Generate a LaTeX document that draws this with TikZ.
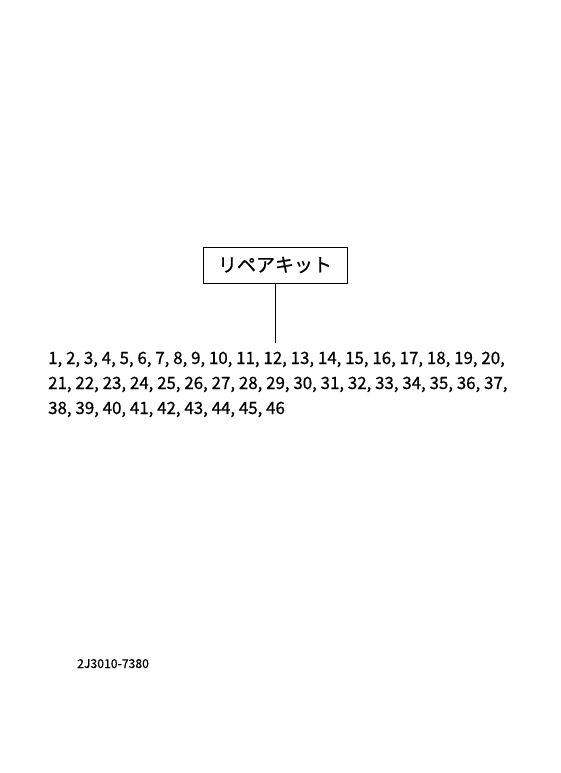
\documentclass[tikz,border=0pt]{standalone}
\usepackage{fontspec}
\setmainfont[FakeBold=0.6]{Noto Sans CJK JP}
\begin{document}
\begin{tikzpicture}
  [x=1pt,y=-1pt,every node/.style={inner sep=0pt},
   kitbox/.style={draw,line width=0.8pt,minimum width=144pt,minimum height=36pt,font=\fontsize{19}{19}\selectfont},
   partrow/.style={anchor=base west,font=\fontsize{16.9}{16.9}\selectfont}]
  \useasboundingbox (0,0) rectangle (560,773);
  \node[kitbox] (kit) at (275,265) {リペアキット};
  \node[partrow] (row1) at (48,364) {1, 2, 3, 4, 5, 6, 7, 8, 9, 10, 11, 12, 13, 14, 15, 16, 17, 18, 19, 20,};
  \node[partrow] (row2) at (48,389) {21, 22, 23, 24, 25, 26, 27, 28, 29, 30, 31, 32, 33, 34, 35, 36, 37,};
  \node[partrow] (row3) at (48,414) {38, 39, 40, 41, 42, 43, 44, 45, 46};
  \node[anchor=base west,font=\fontsize{12.2}{12.2}\selectfont] (code) at (77,668) {2J3010-7380};
  \coordinate (tap) at (275,343);
  \draw[line width=0.8pt] (kit.south) -- (tap);
\end{tikzpicture}
\end{document}
